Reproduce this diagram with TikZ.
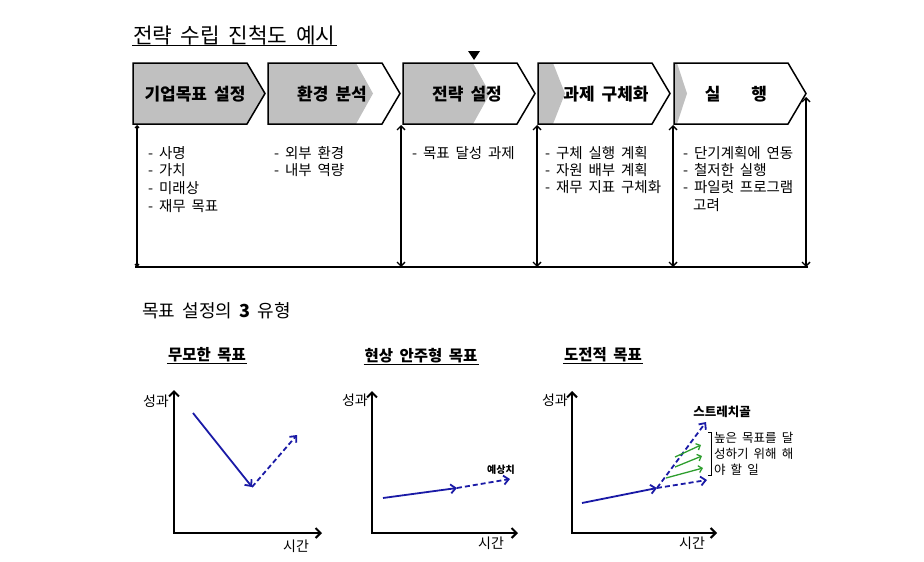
\documentclass[tikz,border=0pt]{standalone}
\usepackage{fontspec}
\setmainfont[WordSpace=1.8]{Noto Sans CJK KR}
\usepackage{tikz}
\usetikzlibrary{arrows.meta}
\definecolor{stagegray}{HTML}{C0C0C0}
\definecolor{trendblue}{HTML}{1A1AA6}
\definecolor{taskgreen}{HTML}{2E9E2E}

\begin{document}
\begin{tikzpicture}[x=1pt,y=-1pt,
  chevron/.style={line width=1.5pt,line join=miter},
  stage/.style={font=\fontsize{17}{19}\selectfont\bfseries},
  item/.style={anchor=west,inner sep=0pt,font=\fontsize{14.5}{18}\selectfont},
  link/.style={line width=1.4pt,{Straight Barb[length=4pt,width=8pt]}-{Straight Barb[length=4pt,width=8pt]}},
  axis/.style={line width=2pt,{Straight Barb[length=5pt,width=10pt]}-{Straight Barb[length=5pt,width=10pt]}},
  trend/.style={trendblue,line width=1.8pt,-{Straight Barb[length=5pt,width=9pt]}},
  guess/.style={trend,dash pattern=on 5pt off 3pt},
  task/.style={taskgreen,line width=1.3pt,-{Straight Barb[length=3.5pt,width=7pt]}},
  charttitle/.style={inner sep=1pt,font=\fontsize{15.5}{18}\selectfont\bfseries},
  axislabel/.style={inner sep=0pt,font=\fontsize{14}{16}\selectfont}]
\useasboundingbox (0,0) rectangle (924,562);

\node[anchor=west,inner sep=1pt,font=\fontsize{21.3}{25}\selectfont] (title) at (132,35) {전략 수립 진척도 예시};
\draw[line width=1.2pt] (title.south west) -- (title.south east);

% stages
\fill[stagegray] (133,63) -- (247,63) -- (265,93.5) -- (247,124) -- (133,124) -- cycle;
\fill[stagegray] (268,63) -- (356,63) -- (373,93.5) -- (356,124) -- (268,124) -- cycle;
\fill[stagegray] (403,63) -- (473,63) -- (490,93.5) -- (473,124) -- (403,124) -- cycle;
\fill[stagegray] (538,63) -- (553,63) -- (565,93.5) -- (553,124) -- (538,124) -- cycle;
\fill[stagegray] (674,63) -- (677,63) -- (687,93.5) -- (677,124) -- (674,124) -- cycle;
\draw[chevron] (133,63) -- (247,63) -- (265,93.5) -- (247,124) -- (133,124) -- cycle;
\draw[chevron] (268,63) -- (382,63) -- (400,93.5) -- (382,124) -- (268,124) -- cycle;
\draw[chevron] (403,63) -- (517,63) -- (535,93.5) -- (517,124) -- (403,124) -- cycle;
\draw[chevron] (538,63) -- (652,63) -- (670,93.5) -- (652,124) -- (538,124) -- cycle;
\draw[chevron] (674,63) -- (788,63) -- (806,93.5) -- (788,124) -- (674,124) -- cycle;
\fill (468,51) -- (480,51) -- (474,60) -- cycle;

\node[stage] (s1) at (195,94) {기업목표 설정};
\node[stage] (s2) at (332,94) {환경 분석};
\node[stage] (s3) at (467,94) {전략 설정};
\node[stage] (s4) at (606,94) {과제 구체화};
\node[stage] (s5) at (736,94) {실\hspace{31pt}행};

\coordinate (t1) at (137,125);
\coordinate (t2) at (401,125);
\coordinate (t3) at (537,125);
\coordinate (t4) at (673,125);
\coordinate (t5) at (806,97);
\coordinate (f1) at (137,267);
\coordinate (f2) at (401,267);
\coordinate (f3) at (537,267);
\coordinate (f4) at (673,267);
\coordinate (f5) at (806,267);
\coordinate (e0) at (135,267);
\coordinate (e1) at (808,267);
\draw[line width=1.4pt,{Straight Barb[length=2pt,width=4pt]}-{Straight Barb[length=2pt,width=4pt]}] (t1) -- (f1);
\draw[link] (t2) -- (f2);
\draw[link] (t3) -- (f3);
\draw[link] (t4) -- (f4);
\draw[link] (t5) -- (f5);
\draw[line width=1.4pt] (e0) -- (e1);

\node[item] (p11) at (148,153) {- 사명};
\node[item] (p12) at (148,170) {- 가치};
\node[item] (p13) at (148,188) {- 미래상};
\node[item] (p14) at (148,206) {- 재무 목표};

\node[item] (p21) at (274,153) {- 외부 환경};
\node[item] (p22) at (274,170) {- 내부 역량};

\node[item] (p31) at (412,153) {- 목표 달성 과제};

\node[item] (p41) at (545,153) {- 구체 실행 계획};
\node[item] (p42) at (545,170) {- 자원 배부 계획};
\node[item] (p43) at (545,187) {- 재무 지표 구체화};

\node[item] (p51) at (683,153) {- 단기계획에 연동};
\node[item] (p52) at (683,170) {- 철저한 실행};
\node[item] (p53) at (683,187) {- 파일럿 프로그램};
\node[item] (p54) at (693,205) {고려};

\node[anchor=west,inner sep=0pt,font=\fontsize{18}{21}\selectfont] (types) at (142,311) {목표 설정의 \textbf{3} 유형};

% reckless
\node[charttitle] (g1) at (207,355) {무모한 목표};
\draw[line width=1pt] (g1.south west) -- (g1.south east);
\coordinate (o1) at (174,533);
\coordinate (y1) at (174,390);
\coordinate (x1) at (322,533);
\draw[axis] (y1) -- (o1) -- (x1);
\node[axislabel,anchor=east] (v1) at (169,401) {성과};
\node[axislabel] (h1) at (296,546) {시간};
\coordinate (a1) at (193,413);
\coordinate (b1) at (252,487);
\coordinate (c1) at (297,435);
\draw[trend] (a1) -- (b1);
\draw[guess] (b1) -- (c1);

% status quo
\node[charttitle] (g2) at (421,356) {현상 안주형 목표};
\draw[line width=1pt] (g2.south west) -- (g2.south east);
\coordinate (o2) at (372,533);
\coordinate (y2) at (372,391);
\coordinate (x2) at (518,533);
\draw[axis] (y2) -- (o2) -- (x2);
\node[axislabel,anchor=east] (v2) at (368,400) {성과};
\node[axislabel] (h2) at (491,543) {시간};
\coordinate (a2) at (383,498);
\coordinate (b2) at (457,488);
\coordinate (c2) at (510,479);
\draw[trend] (a2) -- (b2);
\draw[guess] (b2) -- (c2);
\node[inner sep=0pt,font=\fontsize{10}{12}\selectfont\bfseries] (est) at (501,470) {예상치};

% stretch
\node[charttitle] (g3) at (603,355) {도전적 목표};
\draw[line width=1pt] (g3.south west) -- (g3.south east);
\coordinate (o3) at (572,533);
\coordinate (y3) at (572,391);
\coordinate (x3) at (717,533);
\draw[axis] (y3) -- (o3) -- (x3);
\node[axislabel,anchor=east] (v3) at (568,400) {성과};
\node[axislabel] (h3) at (692,543) {시간};
\coordinate (a3) at (582,503);
\coordinate (b3) at (657,488);
\coordinate (c3) at (706,422);
\coordinate (d3) at (707,480);
\draw[trend] (a3) -- (b3);
\draw[guess] (b3) -- (c3);
\draw[guess] (b3) -- (d3);
\coordinate (k1) at (675,457);
\coordinate (k2) at (701,445);
\coordinate (k3) at (675,467);
\coordinate (k4) at (702,456);
\coordinate (k5) at (666,478);
\coordinate (k6) at (703,468);
\draw[task] (k1) -- (k2);
\draw[task] (k3) -- (k4);
\draw[task] (k5) -- (k6);
\node[inner sep=0pt,font=\fontsize{12.5}{14}\selectfont\bfseries] (goal) at (722,412) {스트레치골};
\draw[line width=1pt] (708,432) -- (711,432) -- (711,475) -- (708,475);
\node[item,font=\fontsize{12.5}{14}\selectfont] (n1) at (714,438) {높은 목표를 달};
\node[item,font=\fontsize{12.5}{14}\selectfont] (n2) at (714,454) {성하기 위해 해};
\node[item,font=\fontsize{12.5}{14}\selectfont] (n3) at (714,470) {야 할 일};
\end{tikzpicture}
\end{document}
